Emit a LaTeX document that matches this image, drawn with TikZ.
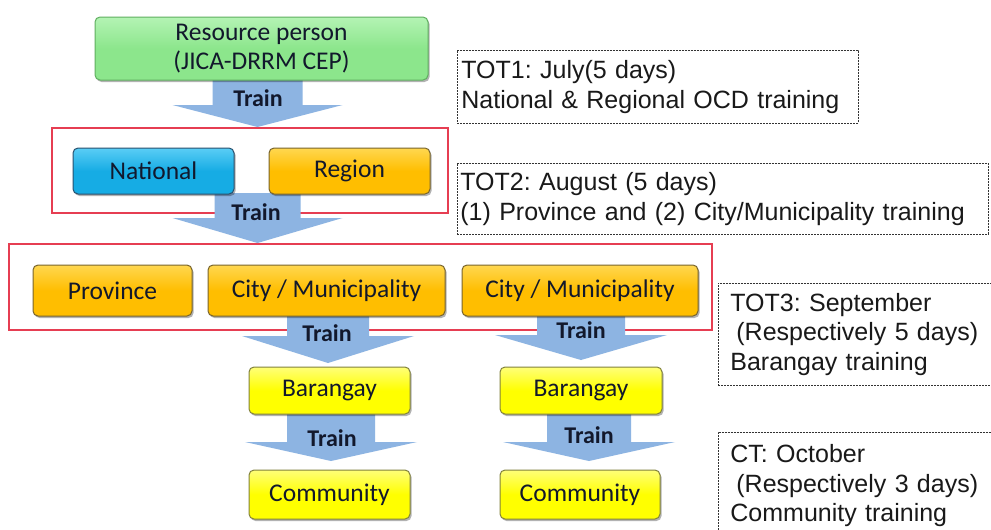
\documentclass[tikz,border=0pt]{standalone}
\usepackage{fontspec}
\setmainfont{Carlito}
\newfontfamily\arialf{Liberation Sans}
\usetikzlibrary{shadows,calc}
\frenchspacing
\definecolor{arrowblue}{RGB}{141,180,226}
\definecolor{txtdark}{RGB}{18,24,44}
\definecolor{framered}{RGB}{230,62,82}
\definecolor{greenfill}{RGB}{140,230,140}
\definecolor{greenlight}{RGB}{180,243,180}
\definecolor{greenedge}{RGB}{95,175,95}
\definecolor{bluefill}{RGB}{22,172,228}
\definecolor{bluelight}{RGB}{90,205,245}
\definecolor{blueedge}{RGB}{40,80,110}
\definecolor{goldfill}{RGB}{255,190,0}
\definecolor{goldlight}{RGB}{255,215,80}
\definecolor{goldedge}{RGB}{120,100,45}
\definecolor{yelfill}{RGB}{255,255,0}
\definecolor{yellight}{RGB}{255,255,120}
\definecolor{yeledge}{RGB}{130,130,60}
\newcommand\blockarr[5]{%
  \fill[arrowblue] let \p1=(#1), \p2=(#2) in
    (\x2-#3pt,\y1) -- (\x2-#3pt,\y2+#5pt) -- (\x2-#4pt,\y2+#5pt) -- (\x2,\y2)
    -- (\x2+#4pt,\y2+#5pt) -- (\x2+#3pt,\y2+#5pt) -- (\x2+#3pt,\y1) -- cycle;}
\tikzset{
  boxbase/.style={rounded corners=5pt, draw, line width=1pt, text=txtdark,
    font=\fontsize{25.5}{29}\selectfont, align=center, inner sep=0pt,
    drop shadow={shadow xshift=1.5pt, shadow yshift=-2pt, opacity=0.3, fill=black}},
  greenbox/.style={boxbase, draw=greenedge, top color=greenlight, bottom color=greenfill, middle color=greenfill},
  bluebox/.style={boxbase, draw=blueedge, top color=bluelight, bottom color=bluefill, middle color=bluefill},
  goldbox/.style={boxbase, draw=goldedge, top color=goldlight, bottom color=goldfill, middle color=goldfill},
  yelbox/.style={boxbase, draw=yeledge, top color=yellight, bottom color=yelfill, middle color=yelfill},
  redframe/.style={draw=framered, line width=1.5pt, inner sep=0pt},
  trainlbl/.style={font=\fontsize{24}{24}\selectfont\bfseries, text=txtdark, inner sep=0pt},
  notebox/.style={draw=black!80, line width=0.8pt, dash pattern=on 2pt off 1pt,
    anchor=north west, font=\arialf\fontsize{25}{29.5}\selectfont, text=black!90, align=left, inner ysep=0pt}
}
\begin{document}
\begin{tikzpicture}[x=1pt,y=-1pt]
\useasboundingbox (0,0) rectangle (991,530);
\clip (0,0) rectangle (991,530);
\fill[white] (0,0) rectangle (991,530);

% group frames
\node[redframe, minimum width=396pt, minimum height=85pt] (rr1) at (250,170.5) {};
\node[redframe, minimum width=703pt, minimum height=86pt] (rr2) at (360.5,287) {};

% connector end points
\coordinate (a1s) at (257.5,79);  \coordinate (a1t) at (257.5,127);
\coordinate (a2s) at (257.5,193); \coordinate (a2t) at (257.5,243);
\coordinate (a3s) at (328,315);   \coordinate (a3t) at (328,363);
\coordinate (a4s) at (581,315);   \coordinate (a4t) at (581,360);
\coordinate (a5s) at (331,413);   \coordinate (a5t) at (331,461);
\coordinate (a6s) at (589,413);   \coordinate (a6t) at (589,461);

% block arrows
\blockarr{a1s}{a1t}{45}{85}{22}
\blockarr{a2s}{a2t}{43}{85}{25}
\blockarr{a3s}{a3t}{41}{86}{27}
\blockarr{a4s}{a4t}{44}{86}{25}
\blockarr{a5s}{a5t}{44}{86}{19}
\blockarr{a6s}{a6t}{42}{86}{19}

% boxes
\node[greenbox, minimum width=333pt, minimum height=63pt] (res) at (261.5,48.5) {Resource person\\(JICA-DRRM CEP)};
\node[bluebox, minimum width=161pt, minimum height=46pt] (nat) at (153.5,171) {National};
\node[goldbox, minimum width=161pt, minimum height=46pt] (reg) at (349.5,171) {Region};
\node[goldbox, minimum width=159pt, minimum height=51pt] (prov) at (112.5,290.5) {Province};
\node[goldbox, minimum width=237pt, minimum height=51pt] (city1) at (326.5,290.5) {City / Municipality};
\node[goldbox, minimum width=236pt, minimum height=51pt] (city2) at (580,290.5) {City / Municipality};
\node[yelbox, minimum width=161pt, minimum height=47pt] (bar1) at (329.5,390.5) {Barangay};
\node[yelbox, minimum width=162pt, minimum height=47pt] (bar2) at (581,390.5) {Barangay};
\node[yelbox, minimum width=161pt, minimum height=49pt] (com1) at (329.5,494.5) {Community};
\node[yelbox, minimum width=160pt, minimum height=49pt] (com2) at (580,494.5) {Community};

% train labels
\node[trainlbl] (t1) at (258,98) {Train};
\node[trainlbl] (t2) at (256,212) {Train};
\node[trainlbl] (t3) at (327,333) {Train};
\node[trainlbl] (t4) at (581,330) {Train};
\node[trainlbl] (t5) at (332,438) {Train};
\node[trainlbl] (t6) at (589,435) {Train};

% schedule notes
\node[notebox, inner xsep=4pt, text width=393pt, minimum height=73pt] (tot1) at (457,50)
  {TOT1: July(5 days)\\National \& Regional OCD training};
\node[notebox, inner xsep=3pt, text width=525pt, minimum height=71pt] (tot2) at (457,163)
  {TOT2: August (5 days)\\(1) Province and (2) City/Municipality training};
\node[notebox, inner xsep=12pt, text width=260pt, minimum height=102pt] (tot3) at (718,283)
  {TOT3: September\\\hspace*{6pt}(Respectively 5 days)\\Barangay training};
\node[notebox, inner xsep=12pt, text width=260pt, minimum height=107pt] (ct) at (718,432)
  {CT: October\\\hspace*{6pt}(Respectively 3 days)\\Community training};
\end{tikzpicture}
\end{document}
